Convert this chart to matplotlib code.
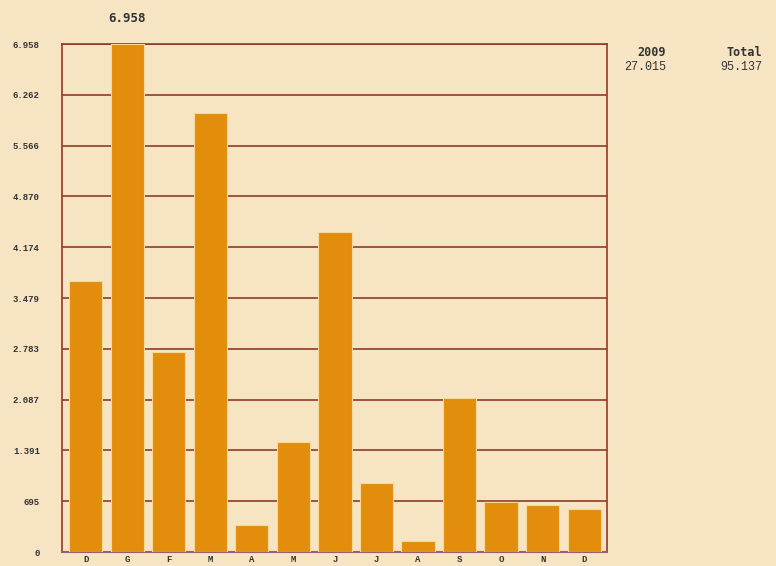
import matplotlib
matplotlib.use("Agg")
import matplotlib.pyplot as plt
import numpy as np

months = ["D", "G", "F", "M", "A", "M", "J", "J", "A", "S", "O", "N", "D"]
values = [3712, 6958, 2745, 6013, 370, 1507, 4383, 950, 150, 2109, 680, 650, 585]
tick_values = [0, 695.8, 1391.6, 2087.4, 2783.2, 3479, 4174.8, 4870.6, 5566.4, 6262.2, 6958]
tick_labels = ["0", "695", "1.391", "2.087", "2.783", "3.479", "4.174", "4.870", "5.566", "6.262", "6.958"]
max_label = "6.958"
year_label, year_total = "2009", "27.015"
total_label, total_value = "Total", "95.137"

bg = "#F6E4C3"
bar_c = "#E28D0C"
grid_c = "#923A28"
txt_c = "#333333"
mono = ["Liberation Mono", "DejaVu Sans Mono"]
bmono = ["DejaVu Sans Mono"]

fig = plt.figure(figsize=(7.76, 5.66), dpi=100, facecolor=bg)
ax = fig.add_axes([62/776, 14/566, 545/776, 508/566])
ax.set_facecolor(bg)

x = np.arange(len(months))
ax.bar(x, values, width=0.8, color=bar_c, edgecolor="#F7D99A", linewidth=0.8, zorder=3)

ax.set_xlim(-0.57, len(months) - 1 + 0.55)
ax.set_ylim(0, tick_values[-1])
ax.set_yticks(tick_values)
ax.set_yticklabels(tick_labels, fontsize=6.5, family=mono, fontweight="bold", color=txt_c)
ax.set_xticks(x)
ax.set_xticklabels(months, fontsize=6.5, family=mono, fontweight="bold", color=txt_c)
ax.tick_params(axis="y", length=0, pad=16)
ax.tick_params(axis="x", length=0, pad=2)
for lbl in ax.get_yticklabels():
    lbl.set_horizontalalignment("right")

ax.yaxis.grid(True, color=grid_c, linewidth=1.2, zorder=1)
ax.set_axisbelow(True)

for side in ["left", "right", "top"]:
    ax.spines[side].set_color(grid_c)
    ax.spines[side].set_linewidth(1.2)
ax.spines["bottom"].set_color("#9A5A78")
ax.spines["bottom"].set_linewidth(1.5)

imax = int(np.argmax(values))
ax.annotate(max_label, xy=(imax, values[imax]), xytext=(0, 14), textcoords="offset points",
            ha="center", va="bottom", fontsize=9, family=bmono,
            fontweight="bold", color=txt_c, annotation_clip=False)

fig.text(666/776, 1 - 52/566, year_label, ha="right", va="center", fontsize=8.5,
         family=bmono, fontweight="bold", color=txt_c)
fig.text(666/776, 1 - 67/566, year_total, ha="right", va="center", fontsize=8.5,
         family=mono, color=txt_c)
fig.text(762/776, 1 - 52/566, total_label, ha="right", va="center", fontsize=8.5,
         family=bmono, fontweight="bold", color=txt_c)
fig.text(762/776, 1 - 67/566, total_value, ha="right", va="center", fontsize=8.5,
         family=mono, color=txt_c)

fig.savefig("out.png", dpi=100, facecolor=bg)
